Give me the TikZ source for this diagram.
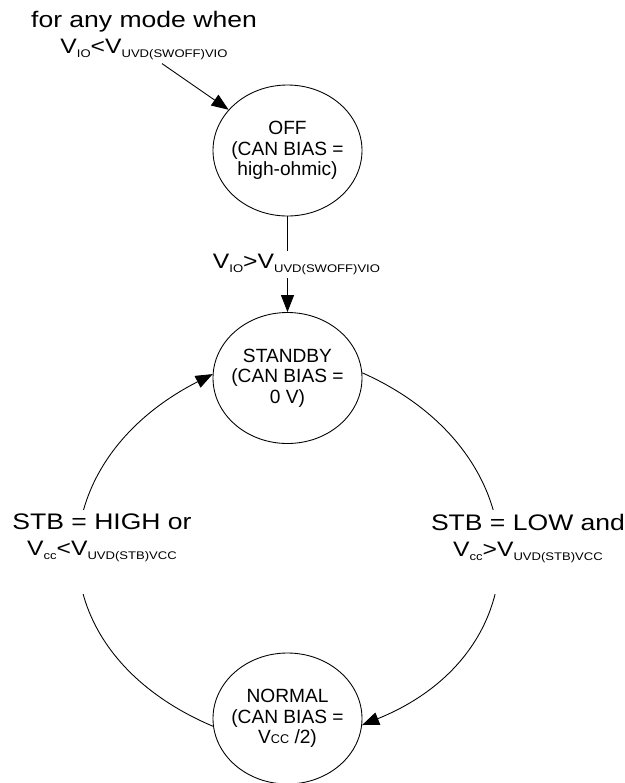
\documentclass[tikz,border=0pt]{standalone}
\usepackage{fontspec}
\setmainfont{Liberation Sans}
\newfontfamily\condfont[FakeStretch=1.18]{Liberation Sans}
\usetikzlibrary{arrows.meta}
\usetikzlibrary{shapes}
\newcommand{\condbig}{\fontsize{12.8}{15}\selectfont}
\newcommand{\vsub}[1]{\raisebox{-2pt}{\fontsize{6.3}{7}\selectfont #1}}

\begin{document}
\begin{tikzpicture}[
  mode/.style={draw, ellipse, line width=0.5pt, minimum width=2.98cm, minimum height=2.62cm, inner xsep=-0.3cm, inner ysep=0pt, align=center, font=\fontsize{10.9}{11.7}\selectfont},
  cond/.style={fill=white, align=center, inner sep=2pt, font=\condfont\fontsize{11.9}{15}\selectfont},
  trans/.style={line width=0.5pt, -{Triangle[length=3.4mm, width=2.6mm]}}
]
\useasboundingbox (0,0) rectangle (12.5,-15.66);

% Modes
\node[mode] (off) at (5.75, -3.01) {OFF\\(CAN BIAS =\\high-ohmic)};
\node[mode] (standby) at (5.75, -7.56) {STANDBY\\(CAN BIAS =\\0 V)};
\node[mode] (normal) at (5.75, -14.37) {NORMAL\\(CAN BIAS =\\V{\fontsize{7.2}{8}\selectfont CC} /2)};

% Switch-off condition
\node[cond, fill=none] (anymode) at (2.88, -0.71) {{\condbig for any mode when}\\V\vsub{IO}<V\vsub{UVD(SWOFF)VIO}};

% Transitions
\draw[trans] ([xshift=0.36cm]anymode.south) -- (off);
\draw[trans] (off) -- node[cond, xshift=0.18cm] (vioup) {V\vsub{IO}>V\vsub{UVD(SWOFF)VIO}} (standby);
\draw[trans] (normal.186) to[out=157, in=207, looseness=1.43] (standby.177);
\draw[trans] (standby.4) to[out=-24, in=22, looseness=1.43] (normal.355);

% STB conditions
\node[cond, anchor=north, text depth=19.6pt] (stbhigh) at (2.04, -10.2) {{\condbig STB = HIGH or}\\V\vsub{cc}<V\vsub{UVD(STB)VCC}};
\node[cond, anchor=north, text depth=19.6pt] (stblow) at (10.56, -10.2) {{\condbig STB = LOW and}\\V\vsub{cc}>V\vsub{UVD(STB)VCC}};
\end{tikzpicture}
\end{document}
